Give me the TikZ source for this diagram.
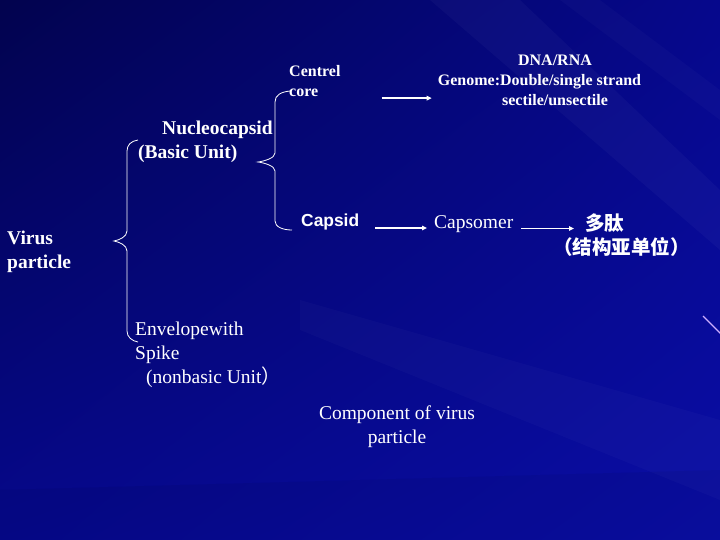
\documentclass[tikz,border=0pt]{standalone}
\usepackage{fontspec}
\setmainfont{Liberation Serif}
\setsansfont{Liberation Sans}
\newfontfamily\cjk{Noto Sans CJK SC}
\usepackage{tikz}
\usetikzlibrary{arrows.meta,shadings}

\definecolor{bgdark}{RGB}{2,3,78}
\definecolor{bgmid}{RGB}{6,8,140}
\definecolor{bglight}{RGB}{10,14,165}
\definecolor{streak}{RGB}{205,175,255}

\begin{document}
\begin{tikzpicture}[
  x=1pt, y=-1pt,
  every node/.style={text=white, inner sep=0pt},
  big/.style={font=\fontsize{19.5}{24}\selectfont, align=left},
  bigbf/.style={font=\fontsize{19.5}{24}\selectfont\bfseries, align=left},
  small/.style={font=\fontsize{16}{20}\selectfont\bfseries},
  brace/.style={draw=white, line width=0.8pt},
  arr/.style={-{Triangle[length=5pt,width=4.5pt]}, draw=white, line width=1.6pt}
]

\useasboundingbox (0,0) rectangle (720,540);

% background
\shade[upper left=bgdark, upper right=bgmid, lower left=bgmid, lower right=bglight] (0,0) rectangle (720,540);
\begin{scope}
  \clip (0,0) rectangle (720,540);
  \fill[white, opacity=0.03] (430,0) -- (520,0) -- (720,190) -- (720,250) -- cycle;
  \fill[white, opacity=0.025] (560,0) -- (600,0) -- (720,90) -- (720,120) -- cycle;
  \fill[white, opacity=0.025] (300,300) -- (720,420) -- (720,500) -- (300,330) -- cycle;
  \fill[black, opacity=0.05] (0,490) -- (720,470) -- (720,540) -- (0,540) -- cycle;
  \draw[streak, line width=1.2pt] (703,316) -- (722,335);
\end{scope}

% texts
\node[bigbf, anchor=north west] (virus) at (7,231) {Virus\\particle};
\node[bigbf, anchor=north west] (nucleo) at (138,121) {\hspace*{24pt}Nucleocapsid\\(Basic Unit)};
\node[small, align=left, anchor=north west] (centrel) at (289,65) {Centrel\\core};
\node[small, align=center, anchor=north] (dna) at (555,55)
  {DNA/RNA\\Genome:Double/single strand\rule{31pt}{0pt}\\sectile/unsectile};
\node[font=\sffamily\bfseries\fontsize{17.4}{20}\selectfont, anchor=base west] (capsid) at (301,226) {Capsid};
\node[big, anchor=base west] (capsomer) at (434,228.5) {Capsomer};
\node[font=\cjk\bfseries\fontsize{19.5}{24}\selectfont, align=left, anchor=north west] (peptide) at (553,214)
  {\hspace*{32pt}多肽\\（结构亚单位）};
\node[big, anchor=north west] (envelope) at (135,322) {Envelopewith\\Spike\\\hspace*{11pt}(nonbasic Unit{\cjk ）}};
\node[big, align=center, anchor=north] (component) at (397,406) {Component of virus\\particle};

% braces
\draw[brace] (290,91) .. controls (281,92) and (275,95) .. (275,102) -- (275,153)
  .. controls (275,158) and (265,161) .. (258,162) .. controls (265,163) and (275,166) .. (275,171)
  -- (275,221) .. controls (275,227) and (283,230) .. (292,230);
\draw[brace] (138,140) .. controls (131,141) and (127,145) .. (127,151) -- (127,231)
  .. controls (127,237) and (119,240) .. (114,241) .. controls (119,242) and (127,245) .. (127,251)
  -- (127,331) .. controls (127,337) and (132,341) .. (138,342);

% arrows
\draw[arr] ([xshift=41pt,yshift=-1.5pt]centrel.south east) -- ([xshift=-6pt,yshift=-1.5pt]centrel.south east -| dna.west);
\draw[arr] ([xshift=16pt,yshift=-2pt]capsid.base east) -- ([xshift=-7pt,yshift=-2pt]capsid.base east -| capsomer.west);
\draw[arr] ([xshift=8pt]capsomer.base east) -- ([xshift=21pt]capsomer.base east -| peptide.west);

\end{tikzpicture}
\end{document}
